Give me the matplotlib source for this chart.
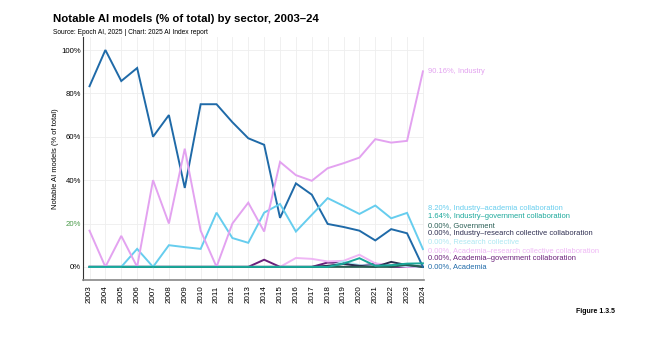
import matplotlib.pyplot as plt

plt.rcParams['font.family'] = ['Liberation Sans', 'DejaVu Sans']

years = list(range(2003, 2025))

academia = [83.3, 100, 85.7, 91.7, 60, 70, 36.4, 75, 75, 66.7, 59.3, 56.3, 22.6, 38.5,
            33.3, 19.8, 18.4, 16.7, 12.2, 17.4, 15.5, 0]
industry = [16.7, 0, 14.3, 0, 40, 20, 54.5, 16.7, 0, 20, 29.6, 16.3, 48.4, 42.3,
            39.7, 45.5, 47.8, 50.4, 58.9, 57.3, 58.1, 90.16]
ind_acad = [0, 0, 0, 8.3, 0, 10, 9.1, 8.3, 25, 13.3, 11.1, 25, 29.0, 16.3,
            24.0, 31.7, 28.1, 24.4, 28.3, 22.4, 24.9, 8.20]
ind_gov = [0, 0, 0, 0, 0, 0, 0, 0, 0, 0, 0, 0, 0, 0,
           0, 0, 1.5, 4.0, 0.5, 0.8, 1.5, 1.64]
government = [0, 0, 0, 0, 0, 0, 0, 0, 0, 0, 0, 0, 0, 0,
              0, 0, 0, 0, 0, 0, 1.0, 0]
ind_rc = [0, 0, 0, 0, 0, 0, 0, 0, 0, 0, 0, 0, 0, 0,
          0, 0.5, 1.3, 0.5, 0, 2.3, 0.8, 0]
research_coll = [0, 0, 0, 0, 0, 0, 0, 0, 0, 0, 0, 0, 0, 0,
                 0, 0, 2.5, 0.8, 0.5, 0.5, 0.5, 0]
acad_rc = [0, 0, 0, 0, 0, 0, 0, 0, 0, 0, 0, 0, 0, 4.1,
           3.7, 2.5, 2.8, 5.6, 1.6, 0.8, 0, 0]
acad_gov = [0, 0, 0, 0, 0, 0, 0, 0, 0, 0, 0, 3.3, 0, 0,
            0, 2.0, 1.8, 0.5, 1.5, 0, 0, 0]

# drawing order, label text, colour
series = [
    ("Academia–government collaboration", acad_gov, '#6a1f7a'),
    ("Academia–research collective collaboration", acad_rc, '#efb6f5'),
    ("Research collective", research_coll, '#ade8f2'),
    ("Industry–research collective collaboration", ind_rc, '#2d2d50'),
    ("Government", government, '#2a5f55'),
    ("Academia", academia, '#1f6aa8'),
    ("Industry–academia collaboration", ind_acad, '#66cdee'),
    ("Industry", industry, '#e3a2f0'),
    ("Industry–government collaboration", ind_gov, '#1aa89a'),
]

# label order from top to bottom at the right end
label_order = ["Industry–academia collaboration", "Industry–government collaboration",
               "Government", "Industry–research collective collaboration",
               "Research collective", "Academia–research collective collaboration",
               "Academia–government collaboration", "Academia"]

fig = plt.figure(figsize=(6.6, 3.49), dpi=100)
ax = fig.add_axes([0.126, 0.198, 0.516, 0.696])

colors = {}
values = {}
for name, vals, c in series:
    ax.plot(years, vals, color=c, lw=1.4, solid_joinstyle='miter')
    colors[name] = c
    values[name] = vals[-1]

ax.set_xlim(2002.6, 2024.05)
ax.set_ylim(-6, 106)
ax.set_xticks(years)
ax.set_xticklabels([str(y) for y in years], rotation=90, fontsize=5.8)
ax.set_yticks([0, 20, 40, 60, 80, 100])
ax.set_yticklabels(['0%', '20%', '40%', '60%', '80%', '100%'], fontsize=5.6)
ax.get_yticklabels()[1].set_color('#4a9a4a')
ax.tick_params(axis='x', length=0, pad=4)
ax.tick_params(axis='y', length=0, pad=1.5)
ax.grid(True, color='#eeeeee', lw=0.6)
ax.set_axisbelow(True)
for s in ['top', 'right']:
    ax.spines[s].set_visible(False)
ax.spines['left'].set_color('#333333')
ax.spines['bottom'].set_color('#888888')
ax.spines['bottom'].set_linewidth(1.2)
ax.set_ylabel("Notable AI models (% of total)", fontsize=5.4, labelpad=2)

# end labels
ax.text(2024.3, values["Industry"], "%.2f%%, Industry" % values["Industry"],
        color=colors["Industry"], fontsize=5.4, va='center', clip_on=False)
n = len(label_order)
for i, name in enumerate(label_order):
    y = (n - 1 - i) * 3.84
    ax.text(2024.3, y, "%.2f%%, %s" % (values[name], name), color=colors[name],
            fontsize=5.4, va='center', clip_on=False)

fig.text(0.08, 0.945, "Notable AI models (% of total) by sector, 2003–24",
         fontsize=8.2, fontweight='bold', va='center',
         family=['Liberation Sans Narrow', 'Liberation Sans'])
fig.text(0.08, 0.908, "Source: Epoch AI, 2025 | Chart: 2025 AI Index report",
         fontsize=4.8, va='center')
fig.text(0.872, 0.108, "Figure 1.3.5", fontsize=5, fontweight='bold', va='center')

fig.savefig('out.png', dpi=100)
